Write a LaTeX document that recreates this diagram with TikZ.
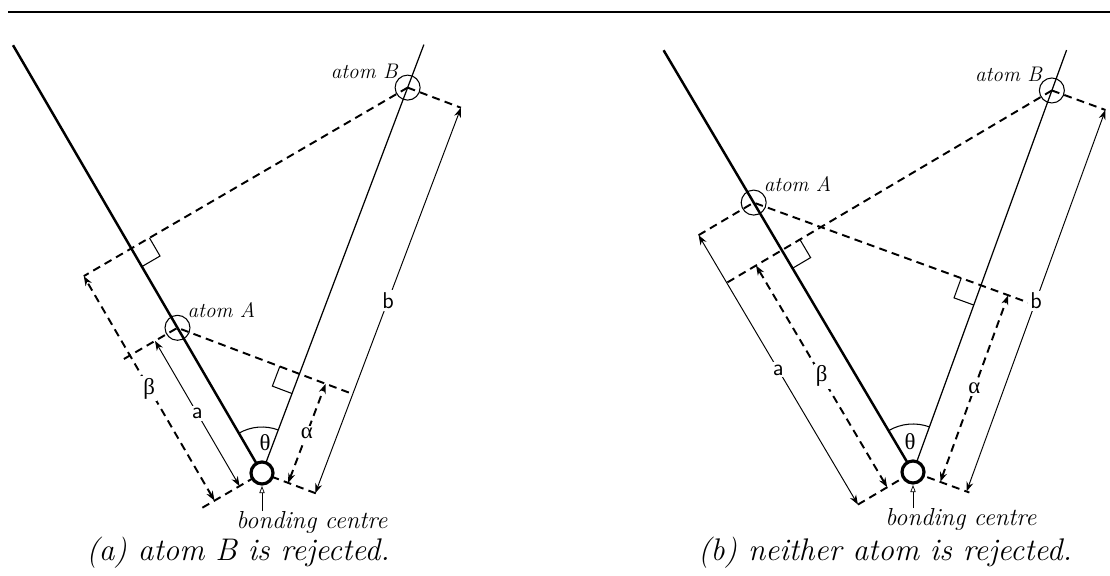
\documentclass[tikz,border=0pt]{standalone}
\usepackage{amsmath, amssymb}
\usepackage{fontspec}
\newfontfamily\grk{Liberation Serif}
\usepackage{tikz}
\usetikzlibrary{calc, arrows.meta}

\begin{document}
\begin{tikzpicture}[>={Stealth[length=5.5pt, width=4pt]}, x=0.2mm, y=0.2mm,
    mainline/.style={line width=1.4pt},
    axisline/.style={line width=0.7pt},
    guide/.style={line width=1.1pt, dash pattern=on 4.5pt off 3pt},
    measure/.style={<->, line width=0.55pt},
    dmeasure/.style={<->, line width=1.1pt, dash pattern=on 4.5pt off 3pt},
    rmark/.style={line width=0.6pt},
    lab/.style={fill=white, inner sep=1.2pt, font=\fontsize{13}{15}\selectfont},
    tag/.style={inner sep=1pt, font=\fontsize{12}{14}\selectfont\itshape},
    centretag/.style={inner sep=0pt, font=\fontsize{14}{16}\selectfont\itshape},
    caption/.style={font=\fontsize{17.8}{21}\selectfont\itshape}]

    \useasboundingbox (0,0) rectangle (1110,575);

    % top rule
    \draw[line width=1.1pt] (8,563) -- (1110,563);

    % =================================================================
    % (a) ATOM B IS REJECTED
    % =================================================================
    \begin{scope}[shift={(262,102)}]
        \coordinate (O) at (0,0);
        \coordinate (L) at (120.2:495);
        \coordinate (R) at (69.3:458);
        \coordinate (A) at (120.2:168);
        \coordinate (B) at (69.3:412);

        % feet of the perpendiculars
        \coordinate (Bf) at ($(O)!(B)!(L)$);
        \coordinate (Af) at ($(O)!(A)!(R)$);

        % ends of the offset measuring lines
        \coordinate (beta0) at ($(O)+(210.2:55)$);
        \coordinate (beta1) at ($(Bf)+(210.2:55)$);
        \coordinate (a0) at ($(O)+(210.2:26)$);
        \coordinate (a1) at ($(A)+(210.2:26)$);
        \coordinate (al0) at ($(O)+(-20.7:28)$);
        \coordinate (al1) at ($(Af)+(-20.7:28)$);
        \coordinate (b0) at ($(O)+(-20.7:57)$);
        \coordinate (b1) at ($(B)+(-20.7:57)$);

        % dashed construction lines
        \draw[guide] ($(O)+(210.2:69)$) -- (O) -- ($(O)+(-20.7:60)$);
        \draw[guide] (B) -- (beta1);
        \draw[guide] (B) -- (b1);
        \draw[guide] ($(A)+(210.2:62)$) -- (A) -- ($(Af)+(-20.7:57)$);

        % right-angle marks
        \draw[rmark] ($(Bf)+(30.2:21)$) -- ++(300.2:21) -- ($(Bf)+(300.2:21)$);
        \draw[rmark] ($(Af)+(159.3:21)$) -- ++(249.3:21) -- ($(Af)+(249.3:21)$);

        % the two lines from the bonding centre
        \draw[mainline] (O) -- (L);
        \draw[axisline] (O) -- (R);

        % measured distances
        \draw[dmeasure] (beta0) -- node[lab] {\grk β} (beta1);
        \draw[measure] (a0) -- node[lab] {\sffamily a} (a1);
        \draw[dmeasure] (al0) -- node[lab] {\grk α} (al1);
        \draw[measure] (b0) -- node[lab] {\sffamily b} (b1);

        % angle theta
        \draw[rmark] ($(O)+(69.3:46)$) arc (69.3:120.2:46);
        \node[lab, fill=none] (th) at ($(O)+(3,30)$) {\grk θ};

        % atoms and bonding centre
        \draw[rmark] (A) circle (12.5);
        \draw[rmark] (B) circle (12.5);
        \draw[line width=1.8pt, fill=white] (O) circle (11);
        \node[tag, anchor=south east] (tagB) at ($(B)+(-8,7)$) {atom B};
        \node[tag, anchor=south west] (tagA) at ($(A)+(8,8)$) {atom A};
        \node[centretag, anchor=north west] (bc) at ($(O)+(-26,-38)$) {bonding centre};
        \draw[-{Triangle[open, length=4pt, width=3pt]}, line width=0.4pt] (O |- bc.north) -- ($(O)+(0,-13)$);
    \end{scope}

    \node[caption] (capa) at (238,22) {(a) atom B is rejected.};

    % =================================================================
    % (b) NEITHER ATOM IS REJECTED
    % =================================================================
    \begin{scope}[shift={(913,103)}]
        \coordinate (O) at (0,0);
        \coordinate (L) at (120.6:490);
        \coordinate (R) at (70:449);
        \coordinate (A) at (120.6:313);
        \coordinate (B) at (70:406);

        % feet of the perpendiculars
        \coordinate (Bf) at ($(O)!(B)!(L)$);
        \coordinate (Af) at ($(O)!(A)!(R)$);

        % ends of the offset measuring lines
        \coordinate (a0) at ($(O)+(210.6:64)$);
        \coordinate (a1) at ($(A)+(210.6:64)$);
        \coordinate (beta0) at ($(O)+(210.6:30)$);
        \coordinate (beta1) at ($(Bf)+(210.6:30)$);
        \coordinate (al0) at ($(O)+(-20:29)$);
        \coordinate (al1) at ($(Af)+(-20:29)$);
        \coordinate (b0) at ($(O)+(-20:57)$);
        \coordinate (b1) at ($(B)+(-20:57)$);

        % dashed construction lines
        \draw[guide] (a0) -- (O) -- ($(O)+(-20:60)$);
        \draw[guide] (a1) -- (A) -- ($(Af)+(-20:57)$);
        \draw[guide] (B) -- ($(Bf)+(210.6:64)$);
        \draw[guide] (B) -- (b1);

        % right-angle marks
        \draw[rmark] ($(Bf)+(30.6:21)$) -- ++(300.6:21) -- ($(Bf)+(300.6:21)$);
        \draw[rmark] ($(Af)+(160:21)$) -- ++(250:21) -- ($(Af)+(250:21)$);

        % the two lines from the bonding centre
        \draw[mainline] (O) -- (L);
        \draw[axisline] (O) -- (R);

        % measured distances
        \draw[measure] (a0) -- node[lab] {\sffamily a} (a1);
        \draw[dmeasure] (beta0) -- node[lab] {\grk β} (beta1);
        \draw[dmeasure] (al0) -- node[lab] {\grk α} (al1);
        \draw[measure] (b0) -- node[lab] {\sffamily b} (b1);

        % angle theta
        \draw[rmark] ($(O)+(70:48)$) arc (70:120.6:48);
        \node[lab, fill=none] (th) at ($(O)+(-3,30)$) {\grk θ};

        % atoms and bonding centre
        \draw[rmark] (A) circle (12.5);
        \draw[rmark] (B) circle (12.5);
        \draw[line width=1.8pt, fill=white] (O) circle (11);
        \node[tag, anchor=south east] (tagB) at ($(B)+(-8,7)$) {atom B};
        \node[tag, anchor=south west] (tagA) at ($(A)+(8,9)$) {atom A};
        \node[centretag, anchor=north west] (bc) at ($(O)+(-28,-36)$) {bonding centre};
        \draw[-{Triangle[open, length=4pt, width=3pt]}, line width=0.4pt] (O |- bc.north) -- ($(O)+(0,-13)$);
    \end{scope}

    \node[caption] (capb) at (885,22) {(b) neither atom is rejected.};

\end{tikzpicture}
\end{document}
